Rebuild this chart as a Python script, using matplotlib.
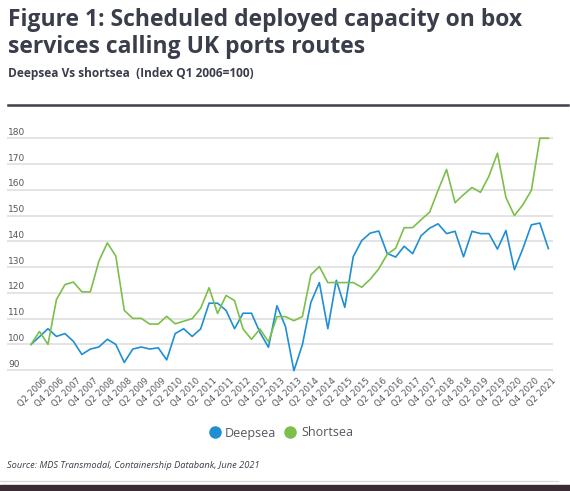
import matplotlib
matplotlib.use("Agg")
import matplotlib.pyplot as plt
import matplotlib.transforms as mtransforms
from matplotlib.lines import Line2D

# quarterly index values, Q2 2006 .. Q3 2021
deepsea = [100, 103, 106.1, 103.1, 104.2, 101.2, 96.1, 98.2, 99, 102,
           100, 93, 98.2, 99, 98.2, 98.7, 94, 104.2, 106.1, 103.1,
           106, 116, 116, 113.2, 106.1, 112.1, 112.1, 104.6, 98.9, 115,
           107, 89.8, 99.9, 116.3, 124, 106.1, 124.9, 114.4, 134.1, 140.3,
           143.2, 144, 135.3, 133.9, 138.1, 135.2, 142.2, 145.1, 146.8, 143,
           143.9, 134, 143.9, 143, 143, 137, 144.2, 129, 137.2, 146.4,
           147.1, 137.2]
shortsea = [100, 105, 100, 117.4, 123.2, 124.2, 120.4, 120.4, 132.3, 139.4,
            134.3, 113.2, 110.1, 110.1, 107.9, 107.9, 110.9, 108, 109, 110,
            114, 122, 112, 119, 117, 106, 102, 106, 101, 110.8,
            110.8, 109.2, 110.8, 127, 130.2, 124, 124, 124, 124, 122.2,
            125.3, 129.3, 135, 137.3, 145.3, 145.3, 148.4, 151.3, 159.8, 167.9,
            155, 158.1, 160.9, 159, 165.3, 174.2, 157, 150, 154.2, 159.8,
            180, 180]
years = list(range(2006, 2022))
quarters = []
for y in years:
    for q in (1, 2, 3, 4):
        quarters.append("Q%d %d" % (q, y))
quarters = quarters[1:1 + len(deepsea)]
y_ticks = [90, 100, 110, 120, 130, 140, 150, 160, 170, 180]

blue = "#1f8fd1"
green = "#7cbf4b"
dark = "#3a3e4a"
grey = "#55575f"

W, H = 570, 491
fig = plt.figure(figsize=(W / 100, H / 100), dpi=100)

fig.text(8 / W, 1 - 8 / H, "Figure 1: Scheduled deployed capacity on box\nservices calling UK ports routes",
         fontsize=16.5, fontweight="bold", family="Open Sans", color=dark,
         ha="left", va="top", linespacing=1.17)
fig.text(8 / W, 1 - 73 / H, "Deepsea Vs shortsea  (Index Q1 2006=100)", fontsize=8.6,
         fontweight="bold", family="Open Sans", color=dark, ha="left", va="center")
fig.add_artist(Line2D([8 / W, 568 / W], [1 - 105 / H, 1 - 105 / H], color=dark, lw=1.8))

# axes: left 7px .. right 553px, top 130px .. bottom 372px
ax = fig.add_axes([7 / W, 1 - 372 / H, 546 / W, 242 / H])
x = list(range(len(deepsea)))
ax.plot(x, deepsea, color=blue, lw=1.2, label="Deepsea")
ax.plot(x, shortsea, color=green, lw=1.2, label="Shortsea")

ax.set_xlim(-2.83, 61.55)
ax.set_ylim(89.3, 183.2)
for s in ax.spines.values():
    s.set_visible(False)
ax.set_yticks(y_ticks)
ax.yaxis.grid(True, color="#e2e2e2", lw=1.3)
ax.set_axisbelow(True)
ax.tick_params(axis="y", length=0, pad=0, labelsize=6.5, labelcolor=grey)
ax.tick_params(axis="x", length=0, pad=3, labelsize=6.2, labelcolor=grey)
off_y = mtransforms.ScaledTranslation(1 / 100, 7 / 100, fig.dpi_scale_trans)
for lab in ax.get_yticklabels():
    lab.set_horizontalalignment("left")
    lab.set_transform(lab.get_transform() + off_y)

ax.set_xticks(x[::2])
ax.set_xticklabels(quarters[::2], rotation=45, ha="right", va="top", rotation_mode="anchor")
off_x = mtransforms.ScaledTranslation(12 / 100, 0, fig.dpi_scale_trans)
for lab in ax.get_xticklabels():
    lab.set_transform(lab.get_transform() + off_x)

handles = [Line2D([], [], marker="o", ls="", color=blue, markersize=8),
           Line2D([], [], marker="o", ls="", color=green, markersize=8)]
fig.legend(handles, ["Deepsea", "Shortsea"], loc="center", bbox_to_anchor=(280 / W, 1 - 433 / H),
           ncol=2, frameon=False, labelcolor=grey, handletextpad=0.25,
           columnspacing=0.5, handlelength=1.2, prop={"family": "Open Sans", "size": 9})

fig.text(7 / W, 1 - 466 / H, "Source: MDS Transmodal, Containership Databank, June 2021",
         fontsize=6.7, style="italic", family="Open Sans", color=dark, ha="left", va="center")
fig.add_artist(Line2D([0, 558 / W], [1 - 481 / H, 1 - 481 / H], color="#d9d9d9", lw=1))
fig.patches.append(plt.Rectangle((0, 0), 1, 6 / H, transform=fig.transFigure,
                                 color="#3b2b35", zorder=5))

fig.savefig("out.png", dpi=100)
